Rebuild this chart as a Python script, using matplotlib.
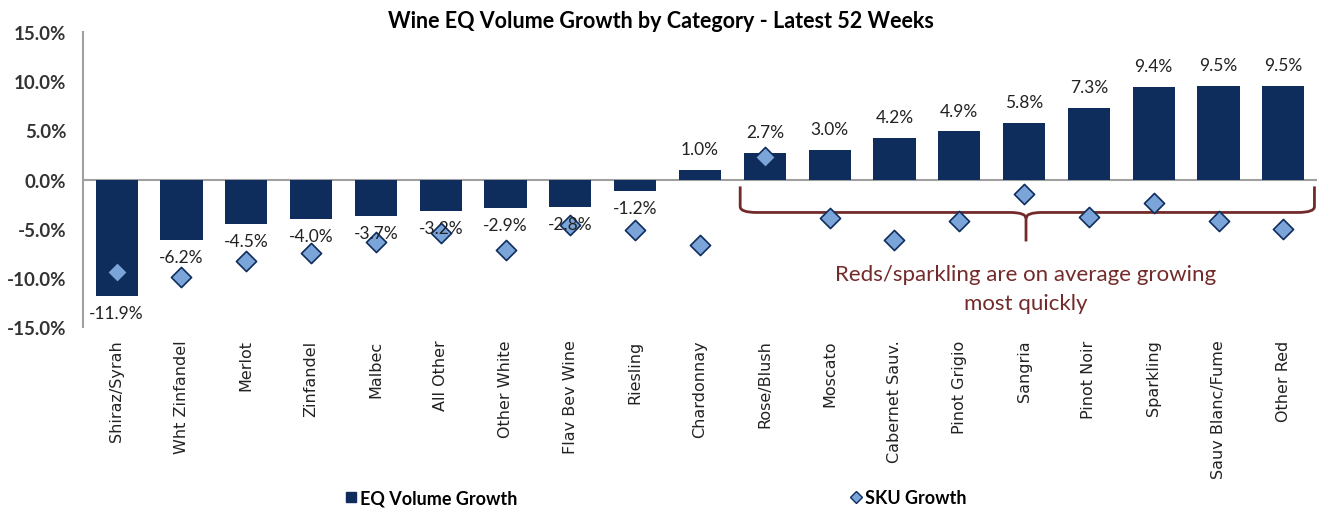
import numpy as np
import matplotlib.pyplot as plt
from matplotlib.path import Path
from matplotlib.patches import PathPatch
from matplotlib.lines import Line2D

# Data
categories = ['Shiraz/Syrah', 'Wht Zinfandel', 'Merlot', 'Zinfandel', 'Malbec',
              'All Other', 'Other White', 'Flav Bev Wine', 'Riesling', 'Chardonnay',
              'Rose/Blush', 'Moscato', 'Cabernet Sauv.', 'Pinot Grigio', 'Sangria',
              'Pinot Noir', 'Sparkling', 'Sauv Blanc/Fume', 'Other Red']
eq_growth = [-11.9, -6.2, -4.5, -4.0, -3.7, -3.2, -2.9, -2.8, -1.2, 1.0,
             2.7, 3.0, 4.2, 4.9, 5.8, 7.3, 9.4, 9.5, 9.5]
sku_growth = [-9.4, -9.9, -8.3, -7.5, -6.4, -5.4, -7.2, -4.6, -5.1, -6.7,
              2.3, -3.9, -6.2, -4.2, -1.5, -3.8, -2.4, -4.2, -5.0]
yticks = [-15, -10, -5, 0, 5, 10, 15]

navy = '#0f2d5c'
diamond = '#7ba5d8'
maroon = '#722a2a'
label_font = 'Lato'

fig = plt.figure(figsize=(13.21, 5.10), dpi=100)
ax = fig.add_axes([0.0628, 0.357, 0.9342, 0.578])

x = np.arange(len(categories))
ax.bar(x, eq_growth, width=0.65, color=navy, zorder=2)
ax.scatter(x, sku_growth, marker='D', s=105, facecolor=diamond,
           edgecolor=navy, linewidth=1.2, zorder=3)

# data labels
for xi, v in zip(x, eq_growth):
    if v < 0:
        ax.text(xi, v - 0.9, f'{v:.1f}%', ha='center', va='top',
                fontsize=12.5, family=label_font, color='#222222')
    else:
        ax.text(xi, v + 1.3, f'{v:.1f}%', ha='center', va='bottom',
                fontsize=12.5, family=label_font, color='#222222')

ax.set_xlim(-0.52, 18.52)
ax.set_ylim(-15, 15)
ax.set_yticks(yticks)
ax.set_yticklabels([f'{t:.1f}%' for t in yticks], family=label_font,
                   fontsize=13.5, fontweight='bold', color='#333333')
ax.set_xticks(x)
ax.set_xticklabels(categories, rotation=90, fontsize=11.5, color='#222222')
ax.tick_params(axis='both', length=0)
ax.tick_params(axis='x', pad=9)
ax.tick_params(axis='y', pad=12)

for s in ['top', 'right', 'bottom']:
    ax.spines[s].set_visible(False)
ax.spines['left'].set_color('#a0a0a0')
ax.spines['left'].set_linewidth(1.5)
ax.axhline(0, color='#a0a0a0', linewidth=1.5, zorder=1)

fig.text(0.5, 0.957, 'Wine EQ Volume Growth by Category - Latest 52 Weeks',
         ha='center', va='center', family=label_font, fontweight='bold',
         fontsize=15.5)

# curly brace over the growing categories
x0, x1, xm = 9.62, 18.48, 14.03
yt, yb, ytip = -0.7, -3.35, -6.3
verts = [(x0, yt), (x0, yb + 0.6), (x0, yb), (x0 + 0.25, yb),
         (xm - 0.25, yb), (xm, yb), (xm, yb - 0.6), (xm, ytip),
         (xm, yb - 0.6), (xm, yb), (xm + 0.25, yb),
         (x1 - 0.25, yb), (x1, yb), (x1, yb + 0.6), (x1, yt)]
codes = [Path.MOVETO, Path.LINETO, Path.CURVE3, Path.CURVE3,
         Path.LINETO, Path.CURVE3, Path.CURVE3, Path.LINETO,
         Path.MOVETO, Path.CURVE3, Path.CURVE3,
         Path.LINETO, Path.CURVE3, Path.CURVE3, Path.LINETO]
ax.add_patch(PathPatch(Path(verts, codes), facecolor='none', edgecolor=maroon,
                       linewidth=2, zorder=2.5))
ax.text(xm, -8.6, 'Reds/sparkling are on average growing\nmost quickly',
        ha='center', va='top', fontsize=16, family=label_font, color=maroon,
        linespacing=1.55)

# legend
h1 = Line2D([], [], marker='s', linestyle='none', markersize=7.5, color=navy)
h2 = Line2D([], [], marker='D', linestyle='none', markersize=6,
            markerfacecolor=diamond, markeredgecolor=navy)
prop = {'family': label_font, 'weight': 'bold', 'size': 13}
fig.legend([h1], ['EQ Volume Growth'], loc='center left',
           bbox_to_anchor=(345 / 1321, 0.022), frameon=False,
           handletextpad=0.15, handlelength=0.7, borderpad=0,
           borderaxespad=0, prop=prop)
fig.legend([h2], ['SKU Growth'], loc='center left',
           bbox_to_anchor=(850 / 1321, 0.022), frameon=False,
           handletextpad=0.15, handlelength=0.7, borderpad=0,
           borderaxespad=0, prop=prop)

plt.savefig('out.png', dpi=100)
